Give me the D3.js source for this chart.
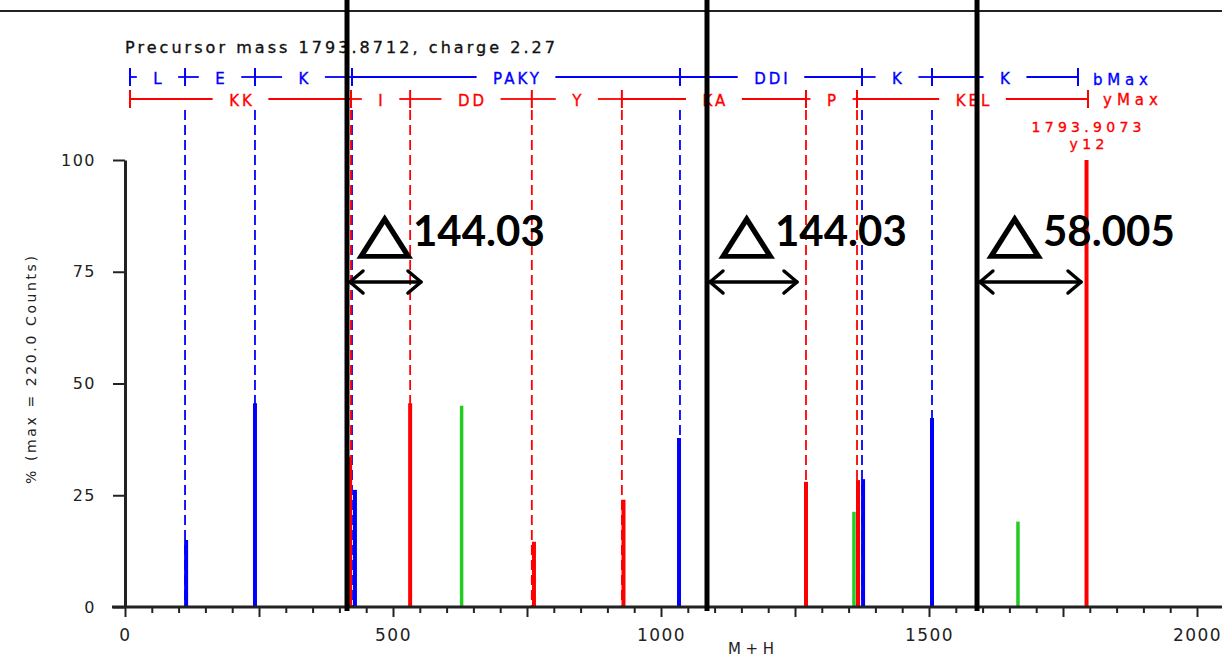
<!DOCTYPE html>
<html lang="en">
<head>
  <meta charset="UTF-8">
  <title>MS/MS spectrum</title>
  <script src="https://d3js.org/d3.v7.min.js"></script>
  <style>
    body { margin: 0; background: #fff; }
    svg { display: block; }
    .lbl { font-family: "DejaVu Sans", "Liberation Sans", Arial, sans-serif; }
  </style>
</head>
<body>
<svg id="chart" width="1222" height="658"></svg>
<script>
  // b-ion ladder (blue row) and y-ion ladder (red row), m/z positions
  const bIons = [9.3, 112, 242.5, 423.5, 1035.4, 1375, 1505.6, 1778];
  const bLabels = ["L", "E", "K", "PAKY", "DDI", "K", "K"];
  const yIons = [9.3, 421.6, 532, 759, 927, 1270.5, 1365.7, 1796.6];
  const yLabels = ["KK", "I", "DD", "Y", "KA", "P", "KEL"];

  // peaks: [m/z, % intensity]
  const bPeaks = [[114, 15], [242.5, 45.6], [429, 26.2], [1033.6, 37.8], [1377, 28.6], [1505.6, 42.3]];
  const yPeaks = [[420, 33.6], [532, 45.6], [763, 14.6], [930, 24], [1270.5, 28], [1367.5, 28.4], [1793.9, 100]];
  const otherPeaks = [[628, 45], [1360, 21.3], [1666, 19.1]];

  const xTicks = d3.range(0, 2051, 50);
  const xLabels = [0, 500, 1000, 1500, 2000];
  const yTicks = [0, 25, 50, 75, 100];

  // overlay annotations (m/z)
  const markLines = [414.2, 1085.8, 1589.6];
  const deltaTexts = ["144.03", "144.03", "58.005"];
  const deltaX = [438.4, 1113.8, 1613.8];
  const arrows = [[419.8, 552.2], [1091.4, 1253.7], [1595, 1783.6]];

  const svg = d3.select("#chart");
  const width = +svg.attr("width");

  const x = d3.scaleLinear().domain([0, 2000]).range([125, 1197]);
  const y = d3.scaleLinear().domain([0, 100]).range([607, 160]);

  const blue = "#0000ff", red = "#ff0000", green = "#22cc22";

  // top rule
  svg.append("line")
    .attr("x1", 0).attr("x2", width).attr("y1", 11).attr("y2", 11)
    .attr("stroke", "#222").attr("stroke-width", 2);

  // precursor text
  svg.append("text").attr("class", "lbl")
    .attr("x", 125).attr("y", 53)
    .attr("font-size", 16).attr("fill", "#111")
    .attr("stroke", "#111").attr("stroke-width", 0.35)
    .attr("textLength", 430)
    .text("Precursor mass 1793.8712, charge 2.27");

  // dashed guide lines from ladders down to baseline
  const dashed = svg.append("g");
  bIons.slice(1, -1).forEach(m => {
    dashed.append("line")
      .attr("x1", x(m)).attr("x2", x(m)).attr("y1", 110).attr("y2", y(0))
      .attr("stroke", blue).attr("stroke-width", 1.8).attr("stroke-dasharray", "10,5");
  });
  yIons.slice(1, -1).forEach(m => {
    dashed.append("line")
      .attr("x1", x(m)).attr("x2", x(m)).attr("y1", 110).attr("y2", y(0))
      .attr("stroke", red).attr("stroke-width", 1.8).attr("stroke-dasharray", "10,5");
  });

  // ladder rows
  function ladder(ions, labels, color, rowY, textY, endLabel, endY) {
    const g = svg.append("g");
    labels.forEach((lab, i) => {
      const a = x(ions[i]), b = x(ions[i + 1]);
      const mid = (a + b) / 2;
      const t = g.append("text").attr("class", "lbl")
        .attr("x", mid + 1.5).attr("y", textY)
        .attr("text-anchor", "middle")
        .attr("font-size", 15).attr("letter-spacing", "3px")
        .attr("fill", color).attr("stroke", color).attr("stroke-width", 0.35)
        .text(lab);
      const w = t.node().getComputedTextLength();
      const pad = 15;
      const l = mid - w / 2 - pad, r = mid + w / 2 + pad;
      if (l > a) g.append("line").attr("x1", a).attr("x2", l).attr("y1", rowY).attr("y2", rowY)
        .attr("stroke", color).attr("stroke-width", 1.8);
      if (r < b) g.append("line").attr("x1", r).attr("x2", b).attr("y1", rowY).attr("y2", rowY)
        .attr("stroke", color).attr("stroke-width", 1.8);
    });
    ions.forEach(m => {
      g.append("line").attr("x1", x(m)).attr("x2", x(m))
        .attr("y1", rowY - 9).attr("y2", rowY + 9)
        .attr("stroke", color).attr("stroke-width", 2);
    });
    g.append("text").attr("class", "lbl")
      .attr("x", x(ions[ions.length - 1]) + 15).attr("y", endY)
      .attr("font-size", 15).attr("textLength", 55)
      .attr("fill", color).attr("stroke", color).attr("stroke-width", 0.35)
      .text(endLabel);
  }
  ladder(bIons, bLabels, blue, 77, 84, "bMax", 85);
  ladder(yIons, yLabels, red, 99, 106, "yMax", 105);

  // peaks
  function peaks(data, color, w) {
    svg.append("g").selectAll("line").data(data).enter().append("line")
      .attr("x1", d => x(d[0])).attr("x2", d => x(d[0]))
      .attr("y1", y(0)).attr("y2", d => y(d[1]))
      .attr("stroke", color).attr("stroke-width", w);
  }
  peaks(otherPeaks, green, 3.5);
  peaks(bPeaks, blue, 4);
  peaks(yPeaks, red, 4);

  // label of the base peak
  const basePeak = yPeaks[yPeaks.length - 1];
  svg.append("text").attr("class", "lbl")
    .attr("x", x(basePeak[0]) - 55).attr("y", 132)
    .attr("font-size", 14).attr("textLength", 110)
    .attr("fill", red).attr("stroke", red).attr("stroke-width", 0.35)
    .text("1793.9073");
  svg.append("text").attr("class", "lbl")
    .attr("x", x(basePeak[0]) - 17).attr("y", 149)
    .attr("font-size", 14).attr("textLength", 35)
    .attr("fill", red).attr("stroke", red).attr("stroke-width", 0.35)
    .text("y12");

  // y axis
  const yAxis = svg.append("g")
    .attr("transform", `translate(${x(0)},0)`)
    .call(d3.axisLeft(y).tickValues(yTicks).tickSize(12).tickSizeOuter(0).tickPadding(17));
  yAxis.select(".domain").attr("stroke", "#222").attr("stroke-width", 3);
  yAxis.selectAll(".tick line").attr("stroke", "#222").attr("stroke-width", 2);
  yAxis.selectAll(".tick text")
    .attr("font-family", "DejaVu Sans, Liberation Sans, sans-serif")
    .attr("font-size", 16).attr("letter-spacing", "1.5px").attr("fill", "#222");

  // x axis
  const xAxis = svg.append("g")
    .attr("transform", `translate(0,${y(0)})`)
    .call(d3.axisBottom(x).tickValues(xTicks).tickSizeOuter(0).tickSize(6)
      .tickFormat(d => xLabels.includes(d) ? d : ""));
  xAxis.select(".domain").remove();
  xAxis.append("line")
    .attr("x1", x(0) - 13).attr("x2", width).attr("y1", 0).attr("y2", 0)
    .attr("stroke", "#222").attr("stroke-width", 3);
  xAxis.selectAll(".tick line")
    .attr("stroke", "#222").attr("stroke-width", 2)
    .attr("y2", d => d % 250 === 0 ? 10 : 6);
  xAxis.selectAll(".tick text")
    .attr("font-family", "DejaVu Sans, Liberation Sans, sans-serif")
    .attr("font-size", 17).attr("letter-spacing", "1.5px").attr("fill", "#222")
    .attr("y", 22);

  // axis titles
  svg.append("text").attr("class", "lbl")
    .attr("transform", "translate(36,370) rotate(-90)")
    .attr("text-anchor", "middle").attr("font-size", 14).attr("fill", "#222")
    .attr("textLength", 228)
    .text("% (max = 220.0 Counts)");
  svg.append("text").attr("class", "lbl")
    .attr("x", 728).attr("y", 654)
    .attr("font-size", 15).attr("textLength", 46).attr("fill", "#222")
    .text("M+H");

  // overlay: thick black marker lines
  svg.append("g").selectAll("line").data(markLines).enter().append("line")
    .attr("x1", d => x(d)).attr("x2", d => x(d))
    .attr("y1", 0).attr("y2", y(0) + 4)
    .attr("stroke", "#000").attr("stroke-width", 5);

  // double-headed arrows
  const ag = svg.append("g").attr("stroke", "#000").attr("stroke-width", 3.5)
    .attr("fill", "none").attr("stroke-linecap", "round").attr("stroke-linejoin", "round");
  arrows.forEach(([a, b]) => {
    const x1 = x(a), x2 = x(b), yy = 282;
    ag.append("line").attr("x1", x1).attr("x2", x2).attr("y1", yy).attr("y2", yy);
    ag.append("path").attr("d", `M${x1 + 13},${yy - 11} L${x1},${yy} L${x1 + 13},${yy + 11}`);
    ag.append("path").attr("d", `M${x2 - 13},${yy - 11} L${x2},${yy} L${x2 - 13},${yy + 11}`);
  });

  // delta labels
  deltaTexts.forEach((t, i) => {
    const tx = x(deltaX[i]);
    svg.append("text")
      .attr("transform", `translate(${tx - 2},251) scale(1.12,0.88)`)
      .attr("font-family", "DejaVu Sans").attr("font-size", 62)
      .attr("fill", "#000").attr("stroke", "#000").attr("stroke-width", 2)
      .text("△");
    svg.append("text")
      .attr("x", tx + 53).attr("y", 246)
      .attr("font-family", "Lato, 'Liberation Sans', sans-serif").attr("font-weight", 700)
      .attr("font-size", 42).attr("fill", "#000")
      .text(t);
  });
</script>
</body>
</html>
